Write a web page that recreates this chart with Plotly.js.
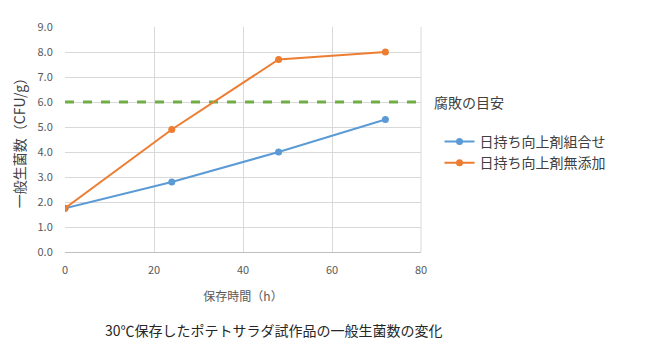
<!DOCTYPE html>
<html><head><meta charset="utf-8">
<script src="https://cdn.plot.ly/plotly-3.0.1.min.js"></script>
<style>body{margin:0;background:#fff}#c{width:650px;height:357px}</style>
</head><body><div id="c"></div>
<script>
const hours = [0, 24, 48, 72];
const combined = [1.75, 2.8, 4.0, 5.3];
const noAdditive = [1.75, 4.9, 7.7, 8.0];
const guideX = [0, 80];
const guideY = [6.0, 6.0];
const seriesNames = ['日持ち向上剤組合せ', '日持ち向上剤無添加'];
const guideLabel = '腐敗の目安';
const chartTitle = '30℃保存したポテトサラダ試作品の一般生菌数の変化';
const xTitle = '保存時間（h）';
const yTitle = '一般生菌数（CFU/g）';

const font = '"Noto Sans CJK JP", "Noto Sans", sans-serif';
const data = [
  {x: guideX, y: guideY, mode: 'lines', name: guideLabel, showlegend: false,
   line: {color: '#70AD47', width: 3, dash: 'dash'}, hoverinfo: 'skip'},
  {x: hours, y: combined, mode: 'lines+markers', name: seriesNames[0],
   line: {color: '#5B9BD5', width: 2}, marker: {color: '#5B9BD5', size: 7}},
  {x: hours, y: noAdditive, mode: 'lines+markers', name: seriesNames[1],
   line: {color: '#ED7D31', width: 2}, marker: {color: '#ED7D31', size: 7}}
];
const layout = {
  width: 650, height: 357,
  margin: {l: 65, r: 229, t: 27, b: 105},
  paper_bgcolor: '#fff', plot_bgcolor: '#fff',
  font: {family: font, color: '#595959'},
  showlegend: true,
  legend: {x: 1.052, xanchor: 'left', y: 0.56, yanchor: 'top',
    font: {size: 14, color: '#404040', family: font}, tracegroupgap: 0,
    bgcolor: 'rgba(0,0,0,0)'},
  xaxis: {range: [0, 80], dtick: 20, tick0: 0, showgrid: true, gridcolor: '#D9D9D9',
    zeroline: false, showline: true, linecolor: '#BFBFBF',
    ticks: 'outside', ticklen: 8, tickcolor: 'rgba(0,0,0,0)',
    tickfont: {size: 11, color: '#595959', family: font},
    title: {text: xTitle, font: {size: 12, color: '#595959', family: font}, standoff: 16}},
  yaxis: {range: [0, 9], dtick: 1, tick0: 0, tickformat: '.1f', showgrid: true,
    gridcolor: '#D9D9D9', zeroline: false, showline: false,
    ticks: 'outside', ticklen: 9, tickcolor: 'rgba(0,0,0,0)',
    tickfont: {size: 11, color: '#595959', family: font},
    title: {text: yTitle, font: {size: 14, color: '#404040', family: font}, standoff: 8}},
  shapes: [{type: 'line', xref: 'paper', yref: 'paper', x0: 1, x1: 1, y0: 0, y1: 1,
    line: {color: '#D9D9D9', width: 1}}],
  annotations: [
    {text: guideLabel, xref: 'paper', yref: 'paper', x: 1.03, y: 0.667,
     xanchor: 'left', yanchor: 'middle', showarrow: false,
     font: {size: 14, color: '#404040', family: font}},
    {text: chartTitle, xref: 'paper', yref: 'paper', x: 0.588, y: -0.345,
     xanchor: 'center', yanchor: 'middle', showarrow: false,
     font: {size: 14, color: '#262626', family: font}}
  ]
};
Plotly.newPlot('c', data, layout, {displayModeBar: false, staticPlot: true});
</script></body></html>
